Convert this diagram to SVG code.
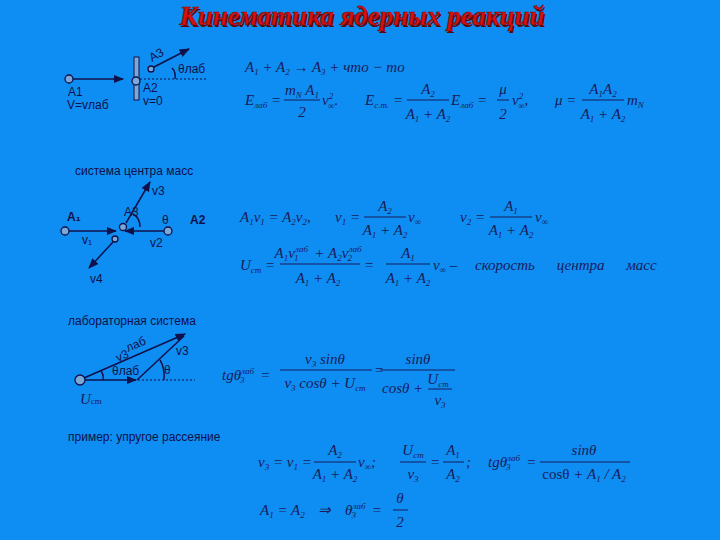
<svg xmlns="http://www.w3.org/2000/svg" width="720" height="540" viewBox="0 0 720 540">
<defs>
<marker id="ah" viewBox="0 0 10 10" refX="9" refY="5" markerWidth="7" markerHeight="7" orient="auto-start-reverse"><path d="M0,1 L10,5 L0,9 z" fill="#10104a"/></marker>
<style>
.f{font-family:"Liberation Serif",serif;font-style:italic;font-size:15px;fill:#1a1a5a}
.s{font-family:"Liberation Sans",sans-serif;font-size:12px;fill:#10104a}
.l{stroke:#10104a;stroke-width:1.5;fill:none}
.d{stroke:#10104a;stroke-width:1;stroke-dasharray:2,2;fill:none}
.c{stroke:#10104a;stroke-width:1.3;fill:#7aa8d8}
.bar{stroke:#1a1a5a;stroke-width:1}
.sb{font-size:9px}
</style>
</defs>
<rect width="720" height="540" fill="#0e8ef2"/>
<text x="362" y="25" text-anchor="middle" font-family="Liberation Serif,serif" font-style="italic" font-weight="bold" font-size="27" fill="#5a0808" transform="translate(1.5,1.5)">Кинематика ядерных реакций</text>
<text x="362" y="25" text-anchor="middle" font-family="Liberation Serif,serif" font-style="italic" font-weight="bold" font-size="27" fill="#d81010" stroke="#7a0a0a" stroke-width="0.6">Кинематика ядерных реакций</text>

<g id="lab-top">
<line class="l" x1="73" y1="79" x2="123" y2="79" marker-end="url(#ah)"/>
<circle class="c" cx="69" cy="79" r="4"/>
<rect x="134" y="57" width="5" height="43" fill="#7aa8d8" stroke="#10104a"/>
<circle class="c" cx="136" cy="81" r="4"/>
<line class="d" x1="140" y1="79" x2="206" y2="79"/>
<line class="l" x1="154" y1="67" x2="189" y2="49" marker-end="url(#ah)"/>
<circle class="c" cx="151" cy="69" r="3"/>
<text class="s" x="152" y="62" transform="rotate(-30 152 62)">A3</text>
<path class="l" d="M172,68 Q176,72 175,79" stroke-width="1"/>
<text class="s" x="178" y="73">θлаб</text>
<text class="s" x="68" y="96">A1</text>
<text class="s" x="67" y="109" font-size="11">V=vлаб</text>
<text class="s" x="143" y="92" font-size="11">A2</text>
<text class="s" x="143" y="105" font-size="11">v=0</text>
</g>

<g id="f1">
<text class="f" x="245" y="72">A<tspan class="sb" dy="3">1</tspan><tspan dy="-3"> + A</tspan><tspan class="sb" dy="3">2</tspan><tspan dy="-3"> → A</tspan><tspan class="sb" dy="3">3</tspan><tspan dy="-3"> + что − то</tspan></text>
<text class="f" x="245" y="105">E<tspan class="sb" dy="3">лаб</tspan><tspan dy="-3"> =</tspan></text>
<text class="f" x="302" y="95" text-anchor="middle">m<tspan class="sb" dy="3">N</tspan><tspan dy="-3"> A</tspan><tspan class="sb" dy="3">1</tspan></text>
<line class="bar" x1="284" y1="100" x2="320" y2="100"/>
<text class="f" x="302" y="117" text-anchor="middle">2</text>
<text class="f" x="322" y="105">v<tspan class="sb" dy="-6">2</tspan><tspan class="sb" dx="-5" dy="10">∞</tspan><tspan dy="-4">.</tspan></text>
<text class="f" x="365" y="105">E<tspan class="sb" dy="3">c.m.</tspan><tspan dy="-3"> =</tspan></text>
<text class="f" x="428" y="94" text-anchor="middle">A<tspan class="sb" dy="3">2</tspan></text>
<line class="bar" x1="407" y1="100" x2="449" y2="100"/>
<text class="f" x="428" y="119" text-anchor="middle">A<tspan class="sb" dy="3">1</tspan><tspan dy="-3"> + A</tspan><tspan class="sb" dy="3">2</tspan></text>
<text class="f" x="451" y="105">E<tspan class="sb" dy="3">лаб</tspan><tspan dy="-3"> =</tspan></text>
<text class="f" x="503" y="94" text-anchor="middle">μ</text>
<line class="bar" x1="497" y1="100" x2="509" y2="100"/>
<text class="f" x="503" y="119" text-anchor="middle">2</text>
<text class="f" x="512" y="105">v<tspan class="sb" dy="-6">2</tspan><tspan class="sb" dx="-5" dy="10">∞</tspan><tspan dy="-4">,</tspan></text>
<text class="f" x="555" y="105">μ =</text>
<text class="f" x="603" y="94" text-anchor="middle">A<tspan class="sb" dy="3">1</tspan><tspan dy="-3">A</tspan><tspan class="sb" dy="3">2</tspan></text>
<line class="bar" x1="582" y1="100" x2="624" y2="100"/>
<text class="f" x="603" y="119" text-anchor="middle">A<tspan class="sb" dy="3">1</tspan><tspan dy="-3"> + A</tspan><tspan class="sb" dy="3">2</tspan></text>
<text class="f" x="627" y="105">m<tspan class="sb" dy="3">N</tspan></text>
</g>

<text class="s" x="75" y="175" font-size="13">система центра масс</text>

<g id="cm-diagram">
<line class="l" x1="69" y1="231" x2="116" y2="231" marker-end="url(#ah)"/>
<circle class="c" cx="65" cy="231" r="4"/>
<line class="l" x1="164" y1="231" x2="125" y2="231" marker-end="url(#ah)"/>
<circle class="c" cx="168" cy="231" r="4"/>
<line class="l" x1="126" y1="223" x2="150" y2="182" marker-end="url(#ah)"/>
<circle class="c" cx="123" cy="227" r="3.5"/>
<line class="l" x1="113" y1="242" x2="89" y2="268" marker-end="url(#ah)"/>
<circle class="c" cx="115" cy="239" r="3"/>
<path class="l" stroke-width="1" d="M133,214 Q140,218 140,227"/>
<text class="s" x="67" y="221" font-weight="bold" font-size="11">A₁</text>
<text class="s" x="82" y="244">v₁</text>
<text class="s" x="124" y="216" font-size="10">A3</text>
<text class="s" x="152" y="195">v3</text>
<text class="s" x="162" y="224">θ</text>
<text class="s" x="190" y="224" font-weight="bold">A2</text>
<text class="s" x="150" y="247">v2</text>
<text class="s" x="90" y="283">v4</text>
</g>

<g id="f2">
<text class="f" x="240" y="222">A<tspan class="sb" dy="3">1</tspan><tspan dy="-3">v</tspan><tspan class="sb" dy="3">1</tspan><tspan dy="-3"> = A</tspan><tspan class="sb" dy="3">2</tspan><tspan dy="-3">v</tspan><tspan class="sb" dy="3">2</tspan><tspan dy="-3">,</tspan></text>
<text class="f" x="335" y="222">v<tspan class="sb" dy="3">1</tspan><tspan dy="-3"> =</tspan></text>
<text class="f" x="385" y="211" text-anchor="middle">A<tspan class="sb" dy="3">2</tspan></text>
<line class="bar" x1="364" y1="217" x2="406" y2="217"/>
<text class="f" x="385" y="235" text-anchor="middle">A<tspan class="sb" dy="3">1</tspan><tspan dy="-3"> + A</tspan><tspan class="sb" dy="3">2</tspan></text>
<text class="f" x="408" y="222">v<tspan class="sb" dy="3">∞</tspan></text>
<text class="f" x="460" y="222">v<tspan class="sb" dy="3">2</tspan><tspan dy="-3"> =</tspan></text>
<text class="f" x="511" y="211" text-anchor="middle">A<tspan class="sb" dy="3">1</tspan></text>
<line class="bar" x1="490" y1="217" x2="532" y2="217"/>
<text class="f" x="511" y="235" text-anchor="middle">A<tspan class="sb" dy="3">1</tspan><tspan dy="-3"> + A</tspan><tspan class="sb" dy="3">2</tspan></text>
<text class="f" x="535" y="222">v<tspan class="sb" dy="3">∞</tspan></text>
<text class="f" x="240" y="270">U<tspan class="sb" dy="3">cm</tspan><tspan dy="-3"> =</tspan></text>
<text class="f" x="318" y="258" text-anchor="middle">A<tspan class="sb" dy="3">1</tspan><tspan dy="-3">v</tspan><tspan class="sb" dy="-6">лаб</tspan><tspan class="sb" dx="-14" dy="9">1</tspan><tspan dy="-3" dx="12"> + A</tspan><tspan class="sb" dy="3">2</tspan><tspan dy="-3">v</tspan><tspan class="sb" dy="-6">лаб</tspan><tspan class="sb" dx="-14" dy="9">2</tspan></text>
<line class="bar" x1="280" y1="264" x2="360" y2="264"/>
<text class="f" x="318" y="283" text-anchor="middle">A<tspan class="sb" dy="3">1</tspan><tspan dy="-3"> + A</tspan><tspan class="sb" dy="3">2</tspan></text>
<text class="f" x="364" y="270">=</text>
<text class="f" x="408" y="258" text-anchor="middle">A<tspan class="sb" dy="3">1</tspan></text>
<line class="bar" x1="386" y1="264" x2="430" y2="264"/>
<text class="f" x="408" y="283" text-anchor="middle">A<tspan class="sb" dy="3">1</tspan><tspan dy="-3"> + A</tspan><tspan class="sb" dy="3">2</tspan></text>
<text class="f" x="433" y="270">v<tspan class="sb" dy="3">∞</tspan><tspan dy="-3"> –</tspan></text>
<text class="f" x="475" y="270" word-spacing="18">скорость центра масс</text>
</g>

<text class="s" x="68" y="325" font-size="13">лабораторная система</text>

<g id="lab-diagram">
<line class="l" x1="85" y1="380" x2="136" y2="380" stroke-width="2" marker-end="url(#ah)"/>
<line class="d" x1="138" y1="380" x2="195" y2="380"/>
<line class="l" x1="84" y1="378" x2="185" y2="334" stroke-width="1.2" marker-end="url(#ah)"/>
<line class="l" x1="137" y1="380" x2="184" y2="336" stroke-width="1.2"/>
<circle class="c" cx="80" cy="380" r="5"/>
<path class="l" stroke-width="1" d="M101,371 Q104,375 103,380"/>
<path class="l" stroke-width="1" d="M160,360 Q165,368 164,380"/>
<text class="s" x="118" y="362" transform="rotate(-24 118 362)">v3</text>
<text class="s" x="128" y="352" font-size="9" transform="rotate(-24 128 352)">лаб</text>
<text class="s" x="176" y="355">v3</text>
<text class="s" x="112" y="375" font-size="11">θлаб</text>
<text class="s" x="164" y="374">θ</text>
<text class="f" x="80" y="404" font-size="16">U<tspan class="sb" font-style="normal">cm</tspan></text>
</g>

<g id="f3">
<text class="f" x="222" y="380">tgθ<tspan class="sb" dy="-6">лаб</tspan><tspan class="sb" dx="-14" dy="9">3</tspan><tspan dy="-3" dx="12"> =</tspan></text>
<text class="f" x="325" y="364" text-anchor="middle">v<tspan class="sb" dy="3">3</tspan><tspan dy="-3"> sinθ</tspan></text>
<line class="bar" x1="280" y1="370" x2="372" y2="370"/>
<text class="f" x="325" y="388" text-anchor="middle">v<tspan class="sb" dy="3">3</tspan><tspan dy="-3"> cosθ + U</tspan><tspan class="sb" dy="3">cm</tspan></text>
<text class="f" x="374" y="375">=</text>
<text class="f" x="418" y="364" text-anchor="middle">sinθ</text>
<line class="bar" x1="380" y1="370" x2="455" y2="370"/>
<text class="f" x="382" y="393">cosθ +</text>
<text class="f" x="438" y="384" text-anchor="middle">U<tspan class="sb" dy="3">cm</tspan></text>
<line class="bar" x1="428" y1="389" x2="452" y2="389"/>
<text class="f" x="440" y="405" text-anchor="middle">v<tspan class="sb" dy="3">3</tspan></text>
</g>

<text class="s" x="68" y="441" font-size="13">пример:  упругое рассеяние</text>

<g id="f4">
<text class="f" x="258" y="467">v<tspan class="sb" dy="3">3</tspan><tspan dy="-3"> = v</tspan><tspan class="sb" dy="3">1</tspan><tspan dy="-3"> =</tspan></text>
<text class="f" x="335" y="455" text-anchor="middle">A<tspan class="sb" dy="3">2</tspan></text>
<line class="bar" x1="314" y1="462" x2="356" y2="462"/>
<text class="f" x="335" y="479" text-anchor="middle">A<tspan class="sb" dy="3">1</tspan><tspan dy="-3"> + A</tspan><tspan class="sb" dy="3">2</tspan></text>
<text class="f" x="358" y="467">v<tspan class="sb" dy="3">∞</tspan><tspan dy="-3">;</tspan></text>
<text class="f" x="413" y="455" text-anchor="middle">U<tspan class="sb" dy="3">cm</tspan></text>
<line class="bar" x1="400" y1="462" x2="426" y2="462"/>
<text class="f" x="413" y="479" text-anchor="middle">v<tspan class="sb" dy="3">3</tspan></text>
<text class="f" x="430" y="467">=</text>
<text class="f" x="453" y="455" text-anchor="middle">A<tspan class="sb" dy="3">1</tspan></text>
<line class="bar" x1="443" y1="462" x2="464" y2="462"/>
<text class="f" x="453" y="479" text-anchor="middle">A<tspan class="sb" dy="3">2</tspan></text>
<text class="f" x="466" y="467">;</text>
<text class="f" x="488" y="467">tgθ<tspan class="sb" dy="-6">лаб</tspan><tspan class="sb" dx="-14" dy="9">3</tspan><tspan dy="-3" dx="12"> =</tspan></text>
<text class="f" x="584" y="455" text-anchor="middle" font-style="normal">sinθ</text>
<line class="bar" x1="540" y1="462" x2="630" y2="462"/>
<text class="f" x="584" y="479" text-anchor="middle"><tspan font-style="normal">cosθ</tspan> + A<tspan class="sb" dy="3">1</tspan><tspan dy="-3"> / A</tspan><tspan class="sb" dy="3">2</tspan></text>
<text class="f" x="260" y="515">A<tspan class="sb" dy="3">1</tspan><tspan dy="-3"> = A</tspan><tspan class="sb" dy="3">2</tspan></text>
<text class="f" x="318" y="515">⇒</text>
<text class="f" x="345" y="515">θ<tspan class="sb" dy="-6">лаб</tspan><tspan class="sb" dx="-14" dy="9">3</tspan><tspan dy="-3" dx="12"> =</tspan></text>
<text class="f" x="400" y="503" text-anchor="middle" font-style="normal">θ</text>
<line class="bar" x1="393" y1="510" x2="408" y2="510"/>
<text class="f" x="400" y="527" text-anchor="middle">2</text>
</g>
</svg>
